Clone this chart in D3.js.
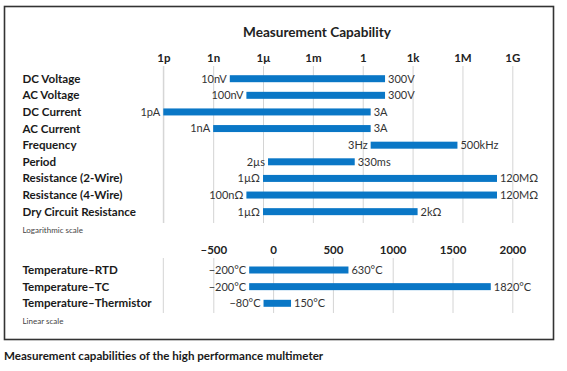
<!DOCTYPE html>
<html>
<head>
<meta charset="utf-8">
<script src="https://cdn.jsdelivr.net/npm/d3@7"></script>
<style>
  body { margin: 0; background: #fff; }
  svg { display: block; font-family: Lato, "Open Sans", sans-serif; }
</style>
</head>
<body>
<svg id="drawing_region"></svg>
<script>
// log section
const logRows = ["DC Voltage", "AC Voltage", "DC Current", "AC Current", "Frequency",
  "Period", "Resistance (2-Wire)", "Resistance (4-Wire)", "Dry Circuit Resistance"]
const logLo = [1e-8, 1e-7, 1e-12, 1e-9, 3, 2e-6, 1e-6, 1e-7, 1e-6]
// DC/AC voltage bars stop well short of 300 in the picture, kept as drawn
const logHi = [22, 22, 3, 3, 5e5, 0.33, 1.2e8, 1.2e8, 2e3]
const logLoText = ["10nV", "100nV", "1pA", "1nA", "3Hz", "2µs", "1µΩ", "100nΩ", "1µΩ"]
const logHiText = ["300V", "300V", "3A", "3A", "500kHz", "330ms", "120MΩ", "120MΩ", "2kΩ"]
const logTicks = [1e-12, 1e-9, 1e-6, 1e-3, 1, 1e3, 1e6, 1e9]
const logTickText = ["1p", "1n", "1µ", "1m", "1", "1k", "1M", "1G"]

// linear section
const linRows = ["Temperature–RTD", "Temperature–TC", "Temperature–Thermistor"]
const linLo = [-200, -200, -80]
const linHi = [630, 1820, 150]
const linLoText = ["−200°C", "−200°C", "−80°C"]
const linHiText = ["630°C", "1820°C", "150°C"]
const linTicks = [-500, 0, 500, 1000, 1500, 2000]
const linTickText = ["–500", "0", "500", "1000", "1500", "2000"]

const W = 567, H = 371
const barColor = "#0a77c6"
const gridColor = "#d4d4d4"

const svg = d3.select("#drawing_region").attr("width", W).attr("height", H)

// frame
svg.append("rect")
  .attr("x", 4.5).attr("y", 6.5).attr("width", 549).attr("height", 333)
  .attr("fill", "none").attr("stroke", "#333").attr("stroke-width", 1.6)

svg.append("text")
  .attr("x", 317).attr("y", 37)
  .attr("text-anchor", "middle")
  .attr("font-weight", "bold").attr("font-size", 13.6).attr("fill", "#222")
  .text("Measurement Capability")

const xLog = d3.scaleLog().domain([1e-12, 1e9]).range([163.3, 512.3])
const xLin = d3.scaleLinear().domain([-500, 2000]).range([213.3, 512.3])
const yLog = d3.scalePoint().domain(logRows).range([78.7, 78.7 + 8 * 16.62])
const yLin = d3.scalePoint().domain(linRows).range([270, 303.3])
const barH = 7

function section(opts) {
  const {x, y, rows, lo, hi, loText, hiText, ticks, tickText, axisY, gridLen, labelY} = opts

  const axis = d3.axisTop(x)
    .tickValues(ticks)
    .tickFormat((d, i) => tickText[i])
    .tickSize(-gridLen)
    .tickPadding(4)
  const g = svg.append("g")
    .attr("transform", `translate(0,${axisY})`)
    .call(axis)
  g.select(".domain").remove()
  g.selectAll(".tick line").attr("stroke", gridColor)
  g.selectAll(".tick text")
    .attr("font-family", "Lato, 'Open Sans', sans-serif")
    .attr("font-size", 11.5).attr("font-weight", "bold").attr("fill", "#222")

  // left guide line at the start of the log range
  svg.append("line")
    .attr("x1", xLog.range()[0]).attr("x2", xLog.range()[0])
    .attr("y1", axisY).attr("y2", axisY + gridLen)
    .attr("stroke", gridColor)

  const idx = d3.range(rows.length)

  svg.append("g").selectAll("text")
    .data(idx).join("text")
    .attr("x", 22.5).attr("y", i => y(rows[i]))
    .attr("dy", "0.35em")
    .attr("font-weight", "bold").attr("font-size", 11.6).attr("fill", "#1a1a1a")
    .text(i => rows[i])

  svg.append("g").selectAll("rect")
    .data(idx).join("rect")
    .attr("x", i => x(lo[i]))
    .attr("y", i => y(rows[i]) - barH / 2)
    .attr("width", i => x(hi[i]) - x(lo[i]))
    .attr("height", barH)
    .attr("fill", barColor)

  svg.append("g").selectAll("text")
    .data(idx).join("text")
    .attr("x", i => x(lo[i]) - 3).attr("y", i => y(rows[i]))
    .attr("dy", "0.35em").attr("text-anchor", "end")
    .attr("font-size", 11).attr("fill", "#333")
    .text(i => loText[i])

  svg.append("g").selectAll("text")
    .data(idx).join("text")
    .attr("x", i => x(hi[i]) + 3).attr("y", i => y(rows[i]))
    .attr("dy", "0.35em")
    .attr("font-size", 11).attr("fill", "#333")
    .text(i => hiText[i])

  svg.append("text")
    .attr("x", 22.5).attr("y", labelY).attr("dy", "0.35em")
    .attr("font-size", 8).attr("fill", "#444")
    .text(opts.note)
}

section({x: xLog, y: yLog, rows: logRows, lo: logLo, hi: logHi, loText: logLoText, hiText: logHiText,
  ticks: logTicks, tickText: logTickText, axisY: 66, gridLen: 157, labelY: 230, note: "Logarithmic scale"})
section({x: xLin, y: yLin, rows: linRows, lo: linLo, hi: linHi, loText: linLoText, hiText: linHiText,
  ticks: linTicks, tickText: linTickText, axisY: 258, gridLen: 55, labelY: 320.7, note: "Linear scale"})

svg.append("text")
  .attr("x", 4).attr("y", 356).attr("dy", "0.35em")
  .attr("font-weight", "bold").attr("font-size", 11.6).attr("fill", "#1a1a1a")
  .text("Measurement capabilities of the high performance multimeter")
</script>
</body>
</html>
